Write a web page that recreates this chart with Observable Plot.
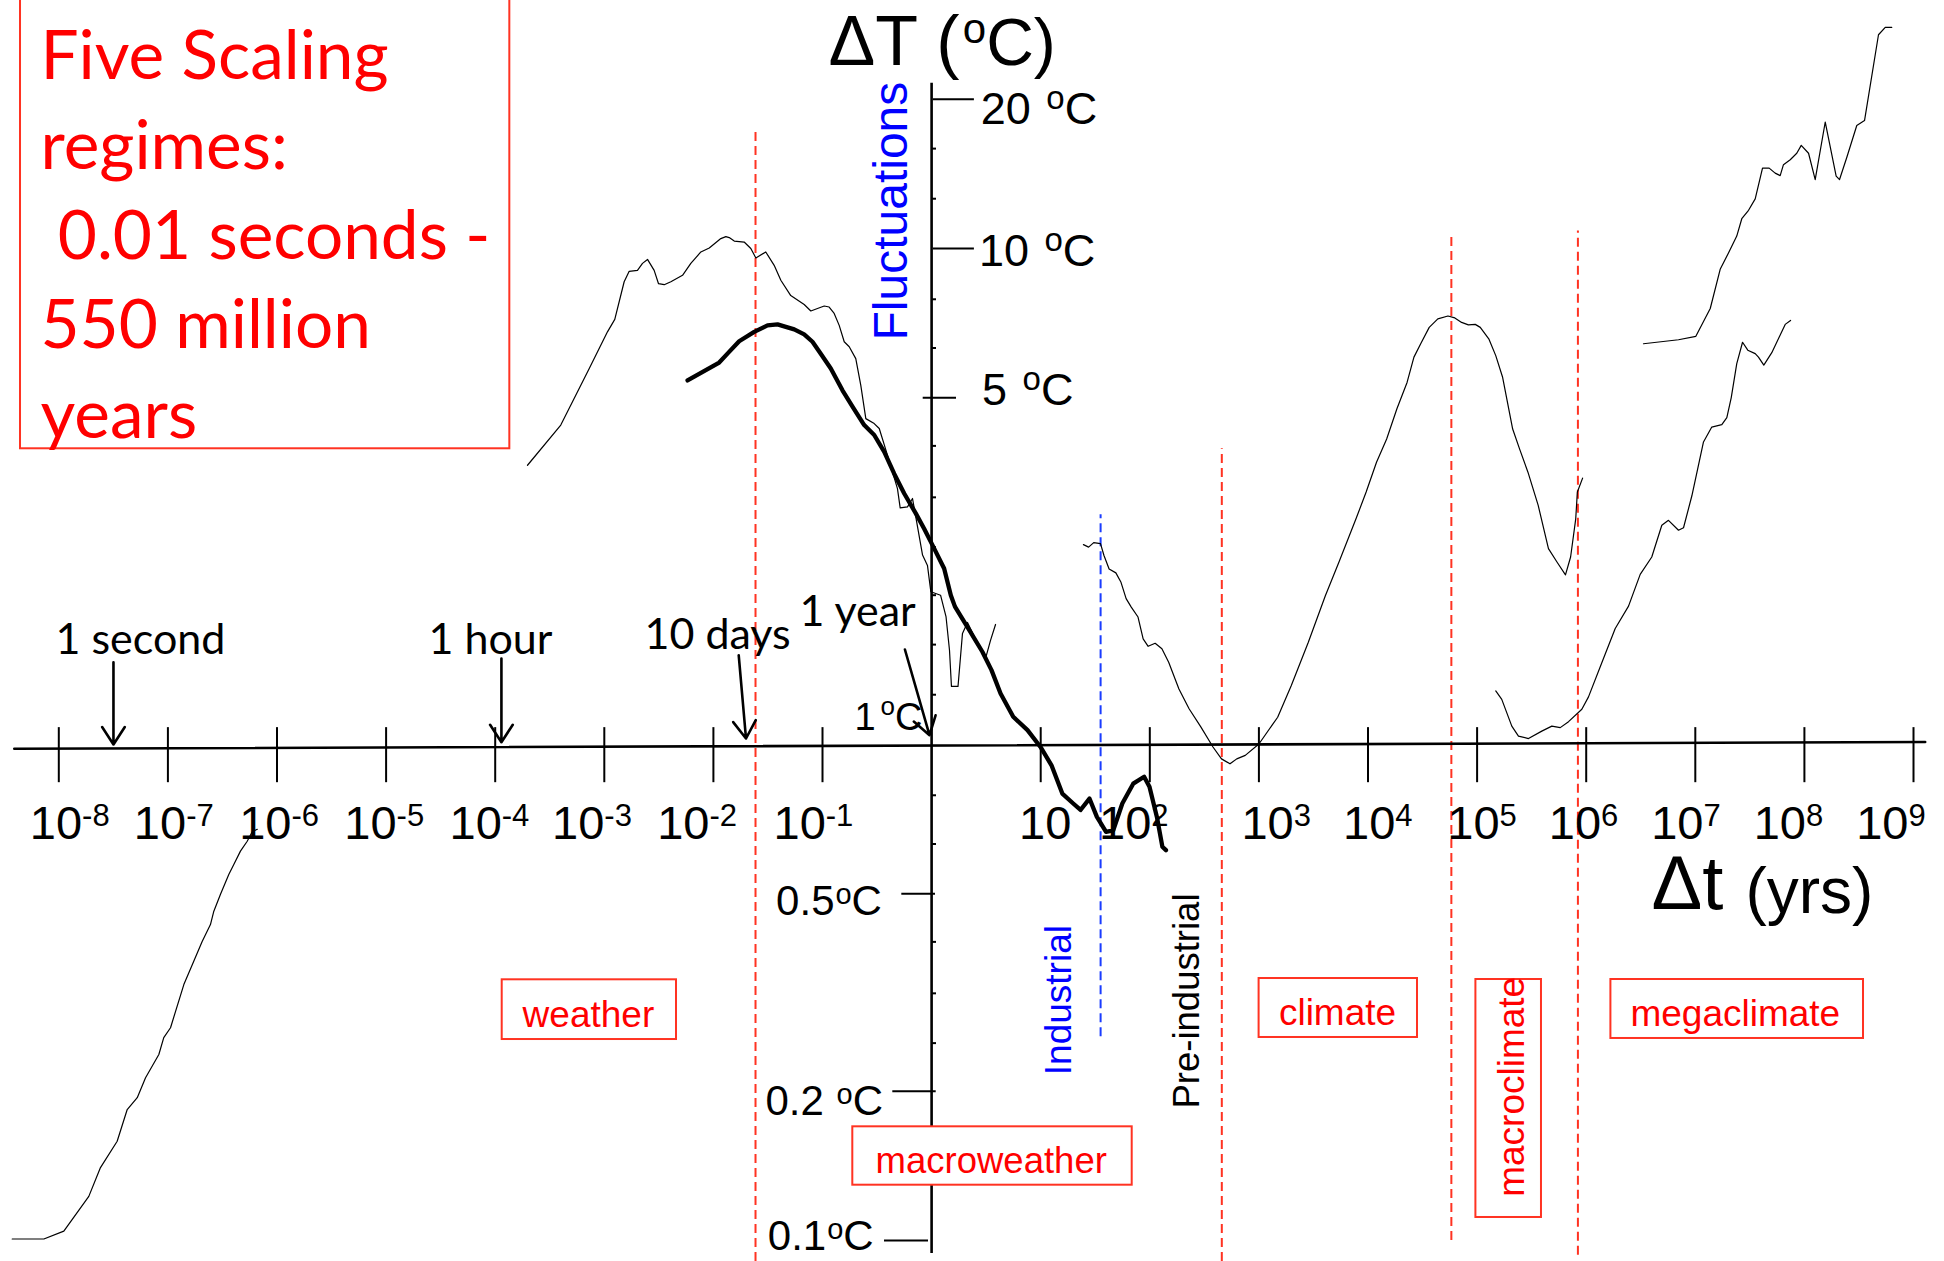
<!DOCTYPE html>
<html>
<head>
<meta charset="utf-8">
<script src="https://cdn.jsdelivr.net/npm/d3@7"></script>
<script src="https://cdn.jsdelivr.net/npm/@observablehq/plot@0.6"></script>
<style>
  html, body { margin: 0; padding: 0; background: #fff; }
  #chart svg { display: block; }
</style>
</head>
<body>
<div id="chart"></div>
<script>
// ---------------- DATA (all positions as [log10 Δt (yrs), log10 ΔT (°C)]) ----------------
const shortScaleCurve = [[-8.427,-0.997],[-8.137,-0.997],[-7.954,-0.981],[-7.725,-0.911],[-7.618,-0.853],[-7.465,-0.800],[-7.373,-0.736],[-7.281,-0.712],[-7.205,-0.672],[-7.083,-0.625],[-7.038,-0.591],[-6.976,-0.571],[-6.854,-0.484],[-6.763,-0.437],[-6.686,-0.397],[-6.610,-0.363],[-6.579,-0.336],[-6.518,-0.302],[-6.442,-0.262],[-6.396,-0.242],[-6.335,-0.215],[-6.273,-0.195],[-6.227,-0.176],[-6.181,-0.171]];

const weatherCurve = [[-3.704,0.563],[-3.399,0.644],[-3.138,0.758],[-2.971,0.832],[-2.904,0.857],[-2.818,0.933],[-2.772,0.954],[-2.696,0.956],[-2.650,0.970],[-2.604,0.978],[-2.543,0.956],[-2.503,0.929],[-2.451,0.927],[-2.390,0.933],[-2.283,0.946],[-2.207,0.970],[-2.115,0.993],[-2.038,1.001],[-1.932,1.020],[-1.886,1.024],[-1.855,1.022],[-1.809,1.015],[-1.718,1.013],[-1.657,1.000],[-1.611,0.981],[-1.520,0.993],[-1.443,0.966],[-1.382,0.936],[-1.291,0.905],[-1.168,0.887],[-1.107,0.874],[-1.046,0.879],[-0.984,0.884],[-0.939,0.882],[-0.893,0.869],[-0.847,0.845],[-0.801,0.812],[-0.755,0.802],[-0.695,0.778],[-0.649,0.724],[-0.603,0.657],[-0.526,0.647],[-0.480,0.637],[-0.404,0.583],[-0.313,0.516],[-0.288,0.477],[-0.221,0.479],[-0.175,0.496],[-0.145,0.459],[-0.083,0.382],[-0.038,0.361],[-0.007,0.308],[0.082,0.301],[0.132,0.258],[0.164,0.190],[0.182,0.117],[0.242,0.117],[0.265,0.177],[0.283,0.224],[0.329,0.246],[0.430,0.200],[0.494,0.173],[0.540,0.210],[0.586,0.242]];

const macroweatherCurve = [[-2.237,0.734],[-1.947,0.770],[-1.871,0.788],[-1.764,0.813],[-1.626,0.832],[-1.504,0.845],[-1.412,0.847],[-1.336,0.842],[-1.259,0.837],[-1.168,0.827],[-1.092,0.812],[-1.016,0.788],[-0.924,0.758],[-0.817,0.714],[-0.725,0.681],[-0.618,0.644],[-0.526,0.624],[-0.434,0.590],[-0.343,0.546],[-0.251,0.506],[-0.145,0.466],[-0.068,0.435],[0.008,0.402],[0.115,0.355],[0.176,0.301],[0.214,0.278],[0.347,0.230],[0.465,0.187],[0.549,0.150],[0.632,0.103],[0.748,0.056],[0.879,0.029],[0.998,-0.005],[1.099,-0.042],[1.198,-0.099],[1.298,-0.119],[1.365,-0.132],[1.447,-0.109],[1.515,-0.146],[1.599,-0.176],[1.665,-0.173],[1.748,-0.119],[1.848,-0.079],[1.948,-0.065],[1.997,-0.085],[2.065,-0.146],[2.115,-0.206],[2.148,-0.213]];

const climateCurve = [[1.392,0.403],[1.439,0.398],[1.486,0.407],[1.548,0.405],[1.580,0.381],[1.627,0.354],[1.689,0.346],[1.736,0.327],[1.783,0.294],[1.830,0.277],[1.892,0.257],[1.939,0.213],[1.985,0.198],[2.049,0.204],[2.111,0.193],[2.173,0.166],[2.267,0.112],[2.360,0.072],[2.469,0.035],[2.579,-0.005],[2.657,-0.029],[2.735,-0.039],[2.797,-0.029],[2.875,-0.022],[3.000,0.001],[3.172,0.055],[3.297,0.119],[3.453,0.206],[3.609,0.300],[3.734,0.368],[3.890,0.455],[3.983,0.509],[4.078,0.569],[4.171,0.616],[4.265,0.677],[4.358,0.730],[4.421,0.781],[4.483,0.808],[4.561,0.841],[4.640,0.858],[4.733,0.864],[4.796,0.860],[4.858,0.851],[4.920,0.846],[4.983,0.847],[5.029,0.841],[5.107,0.818],[5.171,0.784],[5.233,0.741],[5.326,0.636],[5.389,0.596],[5.466,0.549],[5.560,0.482],[5.654,0.395],[5.732,0.368],[5.810,0.342],[5.857,0.378],[5.904,0.455],[5.919,0.509],[5.967,0.537]];

const megaclimateLow = [[5.171,0.108],[5.226,0.091],[5.318,0.037],[5.379,0.017],[5.471,0.012],[5.593,0.027],[5.685,0.037],[5.762,0.034],[5.838,0.046],[5.960,0.071],[6.021,0.096],[6.143,0.165],[6.266,0.234],[6.388,0.279],[6.495,0.343],[6.601,0.378],[6.693,0.442],[6.754,0.452],[6.846,0.432],[6.892,0.437],[6.968,0.501],[7.075,0.610],[7.151,0.640],[7.243,0.645],[7.289,0.659],[7.329,0.699],[7.380,0.768],[7.433,0.811],[7.481,0.795],[7.549,0.788],[7.579,0.781],[7.628,0.765],[7.701,0.790],[7.824,0.847],[7.873,0.855]];

const megaclimateHigh = [[6.525,0.808],[6.846,0.816],[7.005,0.823],[7.137,0.879],[7.228,0.958],[7.304,0.991],[7.380,1.025],[7.426,1.060],[7.488,1.077],[7.549,1.100],[7.616,1.162],[7.677,1.162],[7.732,1.152],[7.778,1.147],[7.808,1.169],[7.870,1.179],[7.930,1.192],[7.971,1.208],[8.038,1.192],[8.099,1.139],[8.191,1.255],[8.291,1.146],[8.322,1.139],[8.389,1.184],[8.480,1.248],[8.551,1.258],[8.679,1.431],[8.741,1.446],[8.801,1.446]];

// x axis (Δt) ticks and labels
const xTickExps = [-8,-7,-6,-5,-4,-3,-2,-1,1,2,3,4,5,6,7,8,9];
const xTickLabelAt = [-8.266,-7.312,-6.347,-5.383,-4.419,-3.479,-2.515,-1.449,0.802,1.535,2.840,3.771,4.727,5.657,6.596,7.535,8.475];
const xLabelLevel = -0.190;
const xAxisEnds = [[-8.408,-0.0087],[9.107,0.005]];

// y axis (ΔT) ticks and labels
const yMajorTicks = [20, 10, 5, 0.5, 0.2, 0.1];
const yMajorTickSpan = [[0.0165,0.3923],[0.0165,0.3923],[-0.077,0.2282],[-0.2731,0.0357],[-0.3556,0.0422],[-0.4317,-0.0284]];
const yMinorTicks = [15.9, 12.6, 7.9, 6.3, 4.0, 3.15, 2.5, 2.0, 1.59, 1.26, 0.79, 0.63, 0.4, 0.315, 0.25];
const yTickText = ["20 ", "10 ", "5 ", "0.5", "0.2 ", "0.1"];
const yTickLabelAt = [[0.451,1.2514],[0.4335,0.9657],[0.462,0.6835],[-1.4253,-0.3442],[-1.5225,-0.7474],[-1.5014,-1.0196]];
const yAxisSpan = [-1.0262, 1.3333];

// time-scale annotations
const timeLabels = ["1 second", "1 hour", "10 days", "1 year"];
const timeLabelAt = [[-8.0302,0.1815],[-4.6114,0.1815],[-2.6315,0.1935],[-1.2108,0.2385]];
const timeArrows = [[-7.499,0.1659,-7.499,0.0],[-3.943,0.1734,-3.943,0.0046],[-1.7681,0.18,-1.7012,0.0121],[-0.2447,0.1915,-0.0192,0.0188]];

// regime transitions
const regimeBreaks = [[-1.614,-1.0423,1.2379],[2.660,-1.0423,0.5962],[4.764,-1.0,1.025],[5.924,-1.0296,1.0353]];
const industrialBreak = [[1.549,-0.5893,0.4631]];

// regime labels
const regimeNames = ["weather", "macroweather", "climate", "megaclimate"];
const regimeBoxes = [[-3.9358,-2.3382,-0.4744,-0.5948],[-0.7223,1.8387,-0.7708,-0.8885],[3.0018,4.4537,-0.4718,-0.5907],[6.2264,8.5417,-0.4738,-0.5927]];
const regimeLabelAt = [[-3.1457,-0.570],[0.5463,-0.8649],[3.7204,-0.5659],[7.3666,-0.5679]];
const regimeLabelSize = [37, 36.5, 37, 37];
const macroclimateBox = [[4.989,5.590,-0.4738,-0.9536]];
const macroclimateLabelAt = [5.4271,-0.9119];

const titleLines = "Five Scaling\nregimes:\n\u00a00.01 seconds -\n550 million\nyears";
const titleBox = [[-8.351,-3.866,0.5962,1.52]];
const titleAt = [-8.168, 1.4702];

// ---------------- RENDERING ----------------
const ARIAL = '"Liberation Sans", Arial, Helvetica, sans-serif';
const CAL = 'Lato, Carlito, Calibri, sans-serif';
const RED = "#ff0000", RED_LINE = "#ff3322", BLUE = "#0000ff", BLUE_LINE = "#1a3cff";
const E = v => 10 ** v;
const ctx = document.createElement("canvas").getContext("2d");
const tw = (s, size, fam) => { ctx.font = `${size}px ${fam}`; return ctx.measureText(s).width; };

function supLabel(base, sup, tail, at, size, supSize, raise, gap = 0, tailSize = size, family = ARIAL, fill = "black") {
  const w1 = tw(base, size, family), w2 = tw(sup, supSize, family);
  const pos = [{x: E(at[0]), y: E(at[1])}];
  const common = {x: "x", y: "y", textAnchor: "start", lineAnchor: "bottom", fontFamily: family, fill};
  return [
    Plot.text(pos, {...common, text: () => base, fontSize: size}),
    Plot.text(pos, {...common, text: () => sup, fontSize: supSize, dx: w1 + gap, dy: -raise}),
    Plot.text(pos, {...common, text: () => tail, fontSize: tailSize, dx: w1 + gap + w2})
  ];
}

const curveMark = (data, sw) => Plot.line(data, {x: d => E(d[0]), y: d => E(d[1]), stroke: "black", strokeWidth: sw, strokeLinejoin: "round", strokeLinecap: "round"});

const marks = [];
// regime dashed lines
marks.push(Plot.ruleX(regimeBreaks, {x: d => E(d[0]), y1: d => E(d[1]), y2: d => E(d[2]), stroke: RED_LINE, strokeWidth: 2, strokeDasharray: "9,5"}));
marks.push(Plot.ruleX(industrialBreak, {x: d => E(d[0]), y1: d => E(d[1]), y2: d => E(d[2]), stroke: BLUE_LINE, strokeWidth: 2, strokeDasharray: "9,5"}));

// axes
marks.push(Plot.line(xAxisEnds, {x: d => E(d[0]), y: d => E(d[1]), stroke: "black", strokeWidth: 2.6}));
marks.push(Plot.ruleX(xTickExps, {x: e => E(e), y1: E(0.034), y2: E(-0.077), stroke: "black", strokeWidth: 2}));
marks.push(Plot.ruleX([1], {y1: E(yAxisSpan[0]), y2: E(yAxisSpan[1]), stroke: "black", strokeWidth: 2.6}));
marks.push(Plot.ruleY(yMajorTicks, {y: d => d, x1: (d, i) => E(yMajorTickSpan[i][0]), x2: (d, i) => E(yMajorTickSpan[i][1]), stroke: "black", strokeWidth: 2}));
marks.push(Plot.ruleY(yMinorTicks, {y: d => d, x1: 1, x2: E(0.045), stroke: "black", strokeWidth: 2}));

// curves
marks.push(curveMark(shortScaleCurve, 1.2));
marks.push(curveMark(weatherCurve, 1.2));
marks.push(curveMark(climateCurve, 1.2));
marks.push(curveMark(megaclimateLow, 1.2));
marks.push(curveMark(megaclimateHigh, 1.2));
marks.push(curveMark(macroweatherCurve, 4.3));

// x tick labels 10^n
const xLab = xTickExps.map((e, i) => ({e, x: E(xTickLabelAt[i]), y: E(xLabelLevel)}));
const w10 = tw("10", 47, ARIAL);
marks.push(Plot.text(xLab, {x: "x", y: "y", text: () => "10", textAnchor: "start", lineAnchor: "bottom", fontSize: 47, fontFamily: ARIAL, fill: "black"}));
marks.push(Plot.text(xLab.filter(d => d.e !== 1), {x: "x", y: "y", text: d => String(d.e), textAnchor: "start", lineAnchor: "bottom", fontSize: 31, fontFamily: ARIAL, fill: "black", dx: w10, dy: -13}));

// y tick labels
yTickText.forEach((t, i) => {
  const right = i < 3;
  marks.push(...supLabel(t, "o", "C", yTickLabelAt[i], right ? 45 : 42, right ? 33 : 29, right ? 15 : 11, right ? 3 : 1));
});
marks.push(...supLabel("1", "o", "C", [-0.7076, 0.0288], 38, 26, 15, 5));

// axis titles
marks.push(...supLabel("ΔT (", "o", "C)", [-0.945, 1.369], 70, 42, 22, 2, 66));
marks.push(Plot.text([{x: E(6.5985), y: E(-0.3321)}], {x: "x", y: "y", text: () => "Δt", textAnchor: "start", lineAnchor: "bottom", fontSize: 76, fontFamily: ARIAL, fill: "black"}));
marks.push(Plot.text([{x: E(6.5985), y: E(-0.3321)}], {x: "x", y: "y", text: () => "(yrs)", textAnchor: "start", lineAnchor: "bottom", fontSize: 64, fontFamily: ARIAL, fill: "black", dx: tw("Δt", 76, ARIAL) + 22, dy: 4}));
marks.push(Plot.text([{x: E(-0.2236), y: E(0.8145)}], {x: "x", y: "y", text: () => "Fluctuations", rotate: -90, textAnchor: "start", lineAnchor: "bottom", fontSize: 48, fontFamily: ARIAL, fill: BLUE}));
marks.push(Plot.text([{x: E(1.2796), y: E(-0.6667)}], {x: "x", y: "y", text: () => "Industrial", rotate: -90, textAnchor: "start", lineAnchor: "bottom", fontSize: 37, fontFamily: ARIAL, fill: BLUE}));
marks.push(Plot.text([{x: E(2.4555), y: E(-0.7339)}], {x: "x", y: "y", text: () => "Pre-industrial", rotate: -90, textAnchor: "start", lineAnchor: "bottom", fontSize: 36.5, fontFamily: ARIAL, fill: "black"}));

// time annotations
marks.push(Plot.arrow(timeArrows, {x1: d => E(d[0]), y1: d => E(d[1]), x2: d => E(d[2]), y2: d => E(d[3]), stroke: "black", strokeWidth: 2.6, headLength: 12, headAngle: 66}));
marks.push(Plot.text(timeLabels, {x: (d, i) => E(timeLabelAt[i][0]), y: (d, i) => E(timeLabelAt[i][1]), text: d => d, textAnchor: "start", lineAnchor: "bottom", fontSize: 43, fontFamily: CAL, fill: "black"}));

// regime boxes and labels
marks.push(Plot.rect(regimeBoxes, {x1: d => E(d[0]), x2: d => E(d[1]), y1: d => E(d[2]), y2: d => E(d[3]), fill: "white", stroke: RED_LINE, strokeWidth: 2}));
marks.push(Plot.rect(macroclimateBox, {x1: d => E(d[0]), x2: d => E(d[1]), y1: d => E(d[2]), y2: d => E(d[3]), fill: "white", stroke: RED_LINE, strokeWidth: 2}));
marks.push(Plot.text(regimeNames, {x: (d, i) => E(regimeLabelAt[i][0]), y: (d, i) => E(regimeLabelAt[i][1]), text: d => d, textAnchor: "middle", lineAnchor: "bottom", fontSize: (d, i) => regimeLabelSize[i], fontFamily: ARIAL, fill: RED}));
marks.push(Plot.text(["macroclimate"], {x: E(macroclimateLabelAt[0]), y: E(macroclimateLabelAt[1]), text: d => d, rotate: -90, textAnchor: "start", lineAnchor: "bottom", fontSize: 37, fontFamily: ARIAL, fill: RED}));

// title box
marks.push(Plot.rect(titleBox, {x1: d => E(d[0]), x2: d => E(d[1]), y1: d => E(d[2]), y2: d => E(d[3]), fill: "white", stroke: RED_LINE, strokeWidth: 2}));
marks.push(Plot.text([titleLines], {x: E(titleAt[0]), y: E(titleAt[1]), text: d => d, textAnchor: "start", lineAnchor: "top", lineHeight: 1.33, fontSize: 67.5, fontFamily: CAL, fill: RED}));

const chart = Plot.plot({
  width: 1944,
  height: 1261,
  marginTop: 0, marginRight: 0, marginBottom: 0, marginLeft: 0,
  x: {type: "log", domain: [E(-8.5344), E(9.2841)], axis: null},
  y: {type: "log", domain: [E(-1.04234), E(1.5)], axis: null},
  style: {background: "white", fontFamily: ARIAL, overflow: "visible"},
  marks
});
document.getElementById("chart").appendChild(chart);
</script>
</body>
</html>
